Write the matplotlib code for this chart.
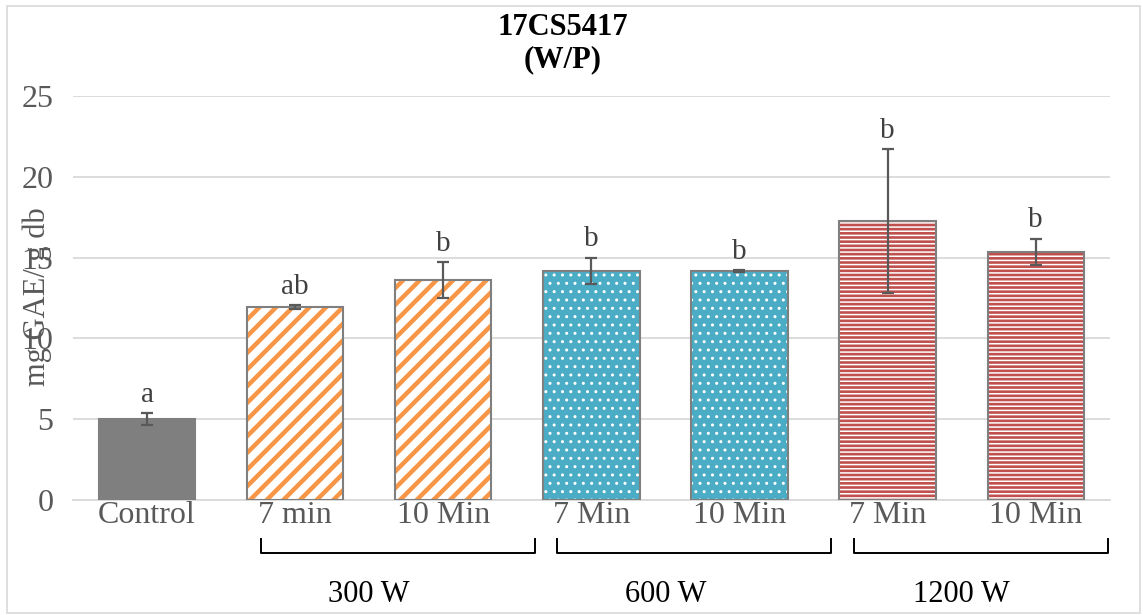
import matplotlib
matplotlib.use("Agg")
import matplotlib.pyplot as plt
import matplotlib.transforms as mtransforms
from matplotlib.patches import Rectangle
import numpy as np

plt.rcParams["font.family"] = ["Liberation Serif", "DejaVu Serif"]

# phenolic content per treatment
labels = ["Control", "7 min", "10 Min", "7 Min", "10 Min", "7 Min", "10 Min"]
values = [5.02, 11.92, 13.6, 14.17, 14.16, 17.25, 15.36]
errors = [0.35, 0.12, 1.1, 0.8, 0.05, 4.45, 0.8]
letters = ["a", "ab", "b", "b", "b", "b", "b"]
groups = ["300 W", "600 W", "1200 W"]
group_members = [(1, 2), (3, 4), (5, 6)]

GRAY = "#595959"
EDGE = "#7f7f7f"
GRID = "#d9d9d9"

# fill, hatch colour, hatch, hatch width
styles = [
    ("#7f7f7f", "#7f7f7f", None, 1.0),
    ("white", "#f79646", "//", 3.2),
    ("white", "#f79646", "//", 3.2),
    ("#4bacc6", "white", "..", 1.0),
    ("#4bacc6", "white", "..", 1.0),
    ("#c0504d", "white", "----", 1.1),
    ("#c0504d", "white", "----", 1.1),
]

fig = plt.figure(figsize=(11.43, 6.15), dpi=100)
ax = fig.add_axes([0.0639, 0.187, 0.907, 0.657])

x = np.arange(len(values))
w = 0.65
for i in range(len(values)):
    fc, hc, hatch, hlw = styles[i]
    with plt.rc_context({"hatch.linewidth": hlw}):
        b = ax.bar(x[i], values[i], w, color=fc, edgecolor=hc, linewidth=0,
                   hatch=hatch, zorder=2)
    for p in b:
        if hasattr(p, "set_hatch_linewidth"):
            p.set_hatch_linewidth(hlw)
    ax.bar(x[i], values[i], w, facecolor="none", edgecolor=EDGE,
           linewidth=1.5, zorder=3)

ax.errorbar(x, values, yerr=errors, fmt="none", ecolor=GRAY, elinewidth=1.6,
            capsize=4.5, capthick=1.6, zorder=4)

for i in range(len(values)):
    ax.annotate(letters[i], (x[i], values[i] + errors[i]), xytext=(0, 4),
                textcoords="offset points", ha="center", va="bottom",
                fontsize=21, color="#404040", zorder=5)

ax.set_ylim(0, 25)
ax.set_xlim(-0.5, len(values) - 0.5)
ax.set_yticks(np.arange(0, 26, 5))
ax.yaxis.grid(True, color=GRID, linewidth=1.3, zorder=0)
ax.set_axisbelow(True)
for s in ["left", "right", "top"]:
    ax.spines[s].set_visible(False)
ax.spines["bottom"].set_color(GRID)
ax.spines["bottom"].set_linewidth(1.3)
ax.tick_params(axis="y", length=0, pad=14, labelsize=23, labelcolor=GRAY)
ax.tick_params(axis="x", length=0, pad=1, labelsize=23, labelcolor=GRAY)
ax.set_xticks(x)
ax.set_xticklabels(labels)

# group brackets under the minute labels
trans = mtransforms.blended_transform_factory(ax.transData, ax.transAxes)
for g, (a, b) in zip(groups, group_members):
    x0 = a - 0.5 + 0.27
    x1 = min(b + 0.5 + 0.12, len(values) - 0.51)
    ax.plot([x0, x0, x1, x1], [-0.0965, -0.131, -0.131, -0.0965], color="black",
            linewidth=1.4, transform=trans, clip_on=False)
    ax.text((a + b) / 2, -0.235, g, transform=trans, ha="center", va="center",
            fontsize=22, color="black")

fig.text(37 / 1143, 0.517, "mg GAE/ g db", rotation=90, ha="center",
         va="center", fontsize=22, color=GRAY)
fig.text(0.492, 0.929, "17CS5417\n(W/P)", ha="center", va="center",
         fontsize=22, fontweight="bold", linespacing=1.15)

fig.patches.append(Rectangle((7 / 1143, 2 / 615), 1133 / 1143, 607 / 615,
                             transform=fig.transFigure, fill=False,
                             edgecolor=GRID, linewidth=1.2))

fig.savefig("out.png", dpi=100)
